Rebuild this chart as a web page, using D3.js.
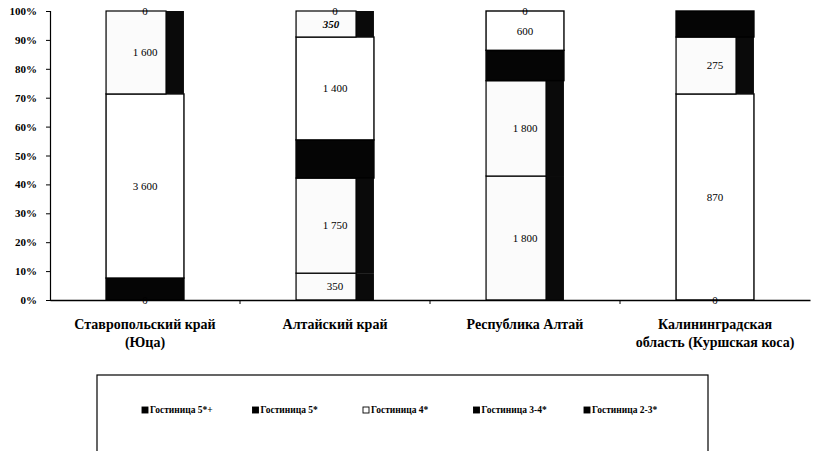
<!DOCTYPE html>
<html>
<head>
<meta charset="utf-8">
<script src="https://cdn.jsdelivr.net/npm/d3@7"></script>
<style>
  html, body { margin: 0; padding: 0; background: #fff; }
  svg { display: block; }
  svg text { font-family: "Liberation Serif", "DejaVu Serif", serif !important; }
</style>
</head>
<body>
<svg id="chart" width="815" height="451" font-family="Liberation Serif, DejaVu Serif, serif"></svg>
<script>
// ---------- data ----------
const categories = [
  "Ставропольский край\n(Юца)",
  "Алтайский край",
  "Республика Алтай",
  "Калининградская\nобласть (Куршская коса)"
];

// stacked layers (bottom -> top), shares of each bar (%)
const layer1Share = [0, 9.3, 42.9, 0];
const layer2Share = [7.6, 0, 0, 0];
const layer3Share = [63.7, 0, 0, 71.3];
const layer4Share = [28.7, 32.9, 33.0, 19.7];
const layer5Share = [0, 13.2, 10.5, 9.0];
const layer6Share = [0, 35.6, 13.6, 0];
const layer7Share = [0, 9.0, 0, 0];
const layer8Share = [0, 0, 0, 0];

// data labels printed on each segment (null = none visible)
const layer1Labels = [0, 350, 1800, 0];
const layer2Labels = [null, null, null, null];
const layer3Labels = [3600, null, null, 870];
const layer4Labels = [1600, 1750, 1800, 275];
const layer5Labels = [null, null, null, null];
const layer6Labels = [null, 1400, 600, null];
const layer7Labels = [null, 350, null, null];
const layer8Labels = [0, 0, 0, null];

const layerKinds = ["shaded", "black", "white", "shaded", "black", "white", "shaded", "white"];

const yTicks = [0, 0.1, 0.2, 0.3, 0.4, 0.5, 0.6, 0.7, 0.8, 0.9, 1.0];

const legendNames = ["Гостиница 5*+", "Гостиница 5*", "Гостиница 4*", "Гостиница 3-4*", "Гостиница 2-3*"];
const legendKinds = ["black", "black", "white", "black", "black"];

// ---------- build table ----------
const shares = [layer1Share, layer2Share, layer3Share, layer4Share, layer5Share, layer6Share, layer7Share, layer8Share];
const labels = [layer1Labels, layer2Labels, layer3Labels, layer4Labels, layer5Labels, layer6Labels, layer7Labels, layer8Labels];
const keys = shares.map((_, i) => "L" + (i + 1));
const table = categories.map((c, ci) => {
  const row = { category: c };
  keys.forEach((k, li) => row[k] = shares[li][ci]);
  return row;
});
const stacked = d3.stack().keys(keys).offset(d3.stackOffsetExpand)(table);

// ---------- layout ----------
const FONT = "Liberation Serif, DejaVu Serif, serif";
const svg = d3.select("#chart");
const margin = { left: 50, right: 5, top: 11, bottom: 151 };
const W = 815, H = 451;
const x = d3.scaleBand().domain(categories).range([margin.left, W - margin.right]).padding(0);
const y = d3.scaleLinear().domain([0, 1]).range([H - margin.bottom, margin.top]);
const barW = x.bandwidth() * 0.41;
const frontFrac = 0.77;
const fmt = d3.formatLocale({ decimal: ",", thousands: "\u00a0", grouping: [3], currency: ["", ""] }).format(",d");

// bars
const gBars = svg.append("g");
stacked.forEach((layer, li) => {
  const kind = layerKinds[li];
  layer.forEach((seg, ci) => {
    const cat = categories[ci];
    const x0 = x(cat) + (x.bandwidth() - barW) / 2;
    const yTop = y(seg[1]), yBot = y(seg[0]);
    const h = yBot - yTop;
    if (h <= 0) return;
    if (kind === "shaded") {
      gBars.append("rect").attr("x", x0).attr("y", yTop).attr("width", barW).attr("height", h)
        .attr("fill", "#0a0a0a");
      gBars.append("rect").attr("x", x0).attr("y", yTop).attr("width", barW * frontFrac).attr("height", h)
        .attr("fill", "#fbfbfb").attr("stroke", "#000").attr("stroke-width", 1.2);
    } else {
      gBars.append("rect").attr("x", x0).attr("y", yTop).attr("width", barW).attr("height", h)
        .attr("fill", kind === "black" ? "#050505" : "#ffffff")
        .attr("stroke", "#000").attr("stroke-width", 1.4);
    }
  });
});

// data labels
const gLab = svg.append("g").attr("font-family", FONT);
stacked.forEach((layer, li) => {
  layer.forEach((seg, ci) => {
    const v = labels[li][ci];
    if (v === null) return;
    const cat = categories[ci];
    const cx = x(cat) + x.bandwidth() / 2;
    const cy = (y(seg[0]) + y(seg[1])) / 2;
    const italic = li === 6;
    gLab.append("text")
      .attr("x", cx - (italic ? 4 : 0)).attr("y", cy).attr("dy", "0.35em")
      .attr("text-anchor", "middle")
      .attr("font-family", FONT)
      .attr("font-size", 11)
      .attr("font-weight", italic ? "bold" : "normal")
      .attr("font-style", italic ? "italic" : "normal")
      .attr("fill", "#000")
      .text(fmt(v));
  });
});

// y axis
const yAxis = d3.axisLeft(y).tickValues(yTicks).tickFormat(d3.format(".0%")).tickSize(4).tickPadding(9);
const gy = svg.append("g").attr("transform", `translate(${margin.left},0)`).call(yAxis)
  .attr("font-family", FONT);
gy.select(".domain").attr("stroke", "#000").attr("stroke-width", 1.2);
gy.selectAll(".tick line").attr("stroke", "#000");
gy.selectAll(".tick text").attr("font-family", FONT)
  .attr("font-size", 11).attr("font-weight", "bold").attr("fill", "#000");

// x axis
const xAxis = d3.axisBottom(x).tickValues([]).tickSizeOuter(0);
const gx = svg.append("g").attr("transform", `translate(0,${y(0)})`).call(xAxis);
gx.select(".domain").attr("stroke", "#000").attr("stroke-width", 1.5);
categories.slice(1).forEach(c => {
  gx.append("line").attr("x1", x(c)).attr("x2", x(c)).attr("y1", 0).attr("y2", 4).attr("stroke", "#000");
});

// category labels
const gCat = svg.append("g");
categories.forEach(c => {
  const lines = c.split("\n");
  const t = gCat.append("text")
    .attr("x", x(c) + x.bandwidth() / 2)
    .attr("y", y(0) + 29)
    .attr("text-anchor", "middle")
    .attr("font-family", FONT)
    .attr("font-size", 14).attr("font-weight", "bold").attr("fill", "#000");
  lines.forEach((ln, i) => {
    t.append("tspan").attr("x", x(c) + x.bandwidth() / 2).attr("dy", i === 0 ? 0 : 18).text(ln);
  });
});

// legend
const gLeg = svg.append("g");
gLeg.append("rect").attr("x", 97).attr("y", 375).attr("width", 611).attr("height", 100)
  .attr("fill", "none").attr("stroke", "#000").attr("stroke-width", 1.2);
const lx = d3.scalePoint().domain(legendNames).range([142, 584]);
legendNames.forEach((n, i) => {
  const gx0 = lx(n);
  gLeg.append("rect").attr("x", gx0).attr("y", 407).attr("width", 6).attr("height", 6)
    .attr("fill", legendKinds[i] === "black" ? "#000" : "#fff")
    .attr("stroke", "#000").attr("stroke-width", 0.9);
  gLeg.append("text").attr("x", gx0 + 8).attr("y", 413)
    .attr("font-family", FONT)
    .attr("font-size", 9.5).attr("font-weight", "bold").attr("fill", "#000").text(n);
});
</script>
</body>
</html>
